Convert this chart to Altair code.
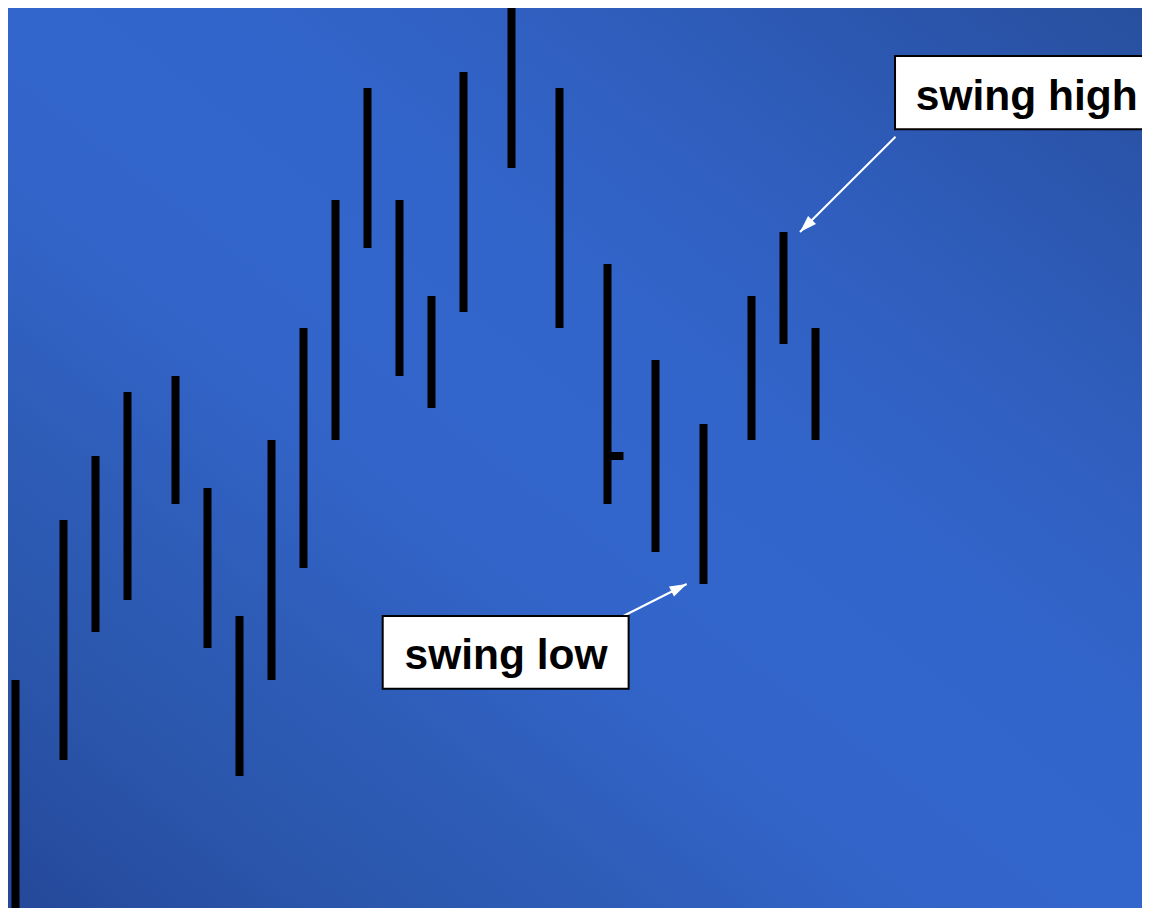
import altair as alt
import pandas as pd

# ---- price bars (slot index along time, high, low) ----
day = [0, 3, 5, 7, 10, 12, 14, 16, 18, 20, 22, 24, 26, 28, 31, 34, 37, 40, 43, 46, 48, 50]
high = [30, 50, 58, 66, 68, 54, 38, 60, 74, 90, 104, 90, 78, 106, 114, 104, 82, 70, 62, 78, 86, 74]
low = [0, 20, 36, 40, 52, 34, 18, 30, 44, 60, 84, 68, 64, 76, 94, 74, 52, 46, 42, 60, 72, 60]

# single close tick
close_day = [37]
close_val = [58]

# ---- annotations ----
labels = ["swing high", "swing low"]
label_x = [63.2, 30.66]
label_y = [101.3, 31.4]
box_x1 = [54.97, 22.95]
box_x2 = [75.0, 38.32]
box_y1 = [108.0, 38.0]
box_y2 = [98.85, 28.9]
arrow_x1 = [55.0, 37.99]
arrow_y1 = [97.9, 38.0]
arrow_x2 = [49.03, 41.95]
arrow_y2 = [86.0, 42.0]
arrow_angle = [225.2, 63.4]

W, H = 1134, 900
X_DOMAIN = [-0.46875, (W - 7.5) / 16]
Y_DOMAIN = [(920 - 8 - H) / 8, 114]

bars = pd.DataFrame({"day": day, "high": high, "low": low})
closes = pd.DataFrame({"day": close_day, "close": close_val})
closes["day_end"] = closes["day"] + 1
notes = pd.DataFrame({
    "label": labels, "lx": label_x, "ly": label_y,
    "bx1": box_x1, "bx2": box_x2, "by1": box_y1, "by2": box_y2,
    "ax1": arrow_x1, "ay1": arrow_y1, "ax2": arrow_x2, "ay2": arrow_y2,
    "angle": arrow_angle,
})

xs = alt.Scale(domain=X_DOMAIN, nice=False, zero=False, padding=0)
ys = alt.Scale(domain=Y_DOMAIN, nice=False, zero=False, padding=0)

gradient = alt.LinearGradient(
    gradient="linear",
    stops=[
        alt.GradientStop(color="#24489A", offset=0.0),
        alt.GradientStop(color="#2A55AA", offset=0.14),
        alt.GradientStop(color="#2D5BB5", offset=0.25),
        alt.GradientStop(color="#3264C8", offset=0.4),
        alt.GradientStop(color="#3366CC", offset=0.5),
        alt.GradientStop(color="#3265CA", offset=0.6),
        alt.GradientStop(color="#2F5EBE", offset=0.75),
        alt.GradientStop(color="#2B55AB", offset=0.9),
        alt.GradientStop(color="#28509F", offset=1.0),
    ],
    x1=0, y1=1, x2=1, y2=0,
)

bg = alt.Chart(pd.DataFrame({"a": [0]})).mark_rect(color=gradient).encode(
    x=alt.value(0), x2=alt.value("width"), y=alt.value(0), y2=alt.value("height")
)

bar_layer = alt.Chart(bars).mark_bar(color="black", size=8, clip=True).encode(
    x=alt.X("day:Q", scale=xs, axis=None),
    y=alt.Y("low:Q", scale=ys, axis=None),
    y2="high:Q",
)

close_layer = alt.Chart(closes).mark_rule(color="black", strokeWidth=8, strokeCap="butt").encode(
    x=alt.X("day:Q", scale=xs, axis=None),
    x2="day_end:Q",
    y=alt.Y("close:Q", scale=ys, axis=None),
)

arrow_lines = alt.Chart(notes).mark_rule(color="white", strokeWidth=2).encode(
    x=alt.X("ax1:Q", scale=xs, axis=None),
    x2="ax2:Q",
    y=alt.Y("ay1:Q", scale=ys, axis=None),
    y2="ay2:Q",
)

arrow_heads = alt.Chart(notes).mark_point(
    shape="M0,0L0.56,1.7L-0.56,1.7Z", filled=True, color="white", opacity=1, size=400
).encode(
    x=alt.X("ax2:Q", scale=xs, axis=None),
    y=alt.Y("ay2:Q", scale=ys, axis=None),
    angle=alt.Angle("angle:Q", scale=None),
)

boxes = alt.Chart(notes).mark_rect(fill="white", stroke="black", strokeWidth=2, clip=True).encode(
    x=alt.X("bx1:Q", scale=xs, axis=None),
    x2="bx2:Q",
    y=alt.Y("by1:Q", scale=ys, axis=None),
    y2="by2:Q",
)

texts = alt.Chart(notes).mark_text(
    font="Liberation Sans", fontWeight="bold", fontSize=42.5, color="black",
    align="center", baseline="alphabetic",
).encode(
    x=alt.X("lx:Q", scale=xs, axis=None),
    y=alt.Y("ly:Q", scale=ys, axis=None),
    text="label:N",
)

chart = alt.layer(
    bg, bar_layer, close_layer, arrow_lines, arrow_heads, boxes, texts
).properties(
    width=W, height=H, padding=0, background="#3366CC",
    autosize=alt.AutoSizeParams(type="none"),
).configure_view(stroke=None)

chart.save("out.html", embed_options={"renderer": "svg", "actions": False})
